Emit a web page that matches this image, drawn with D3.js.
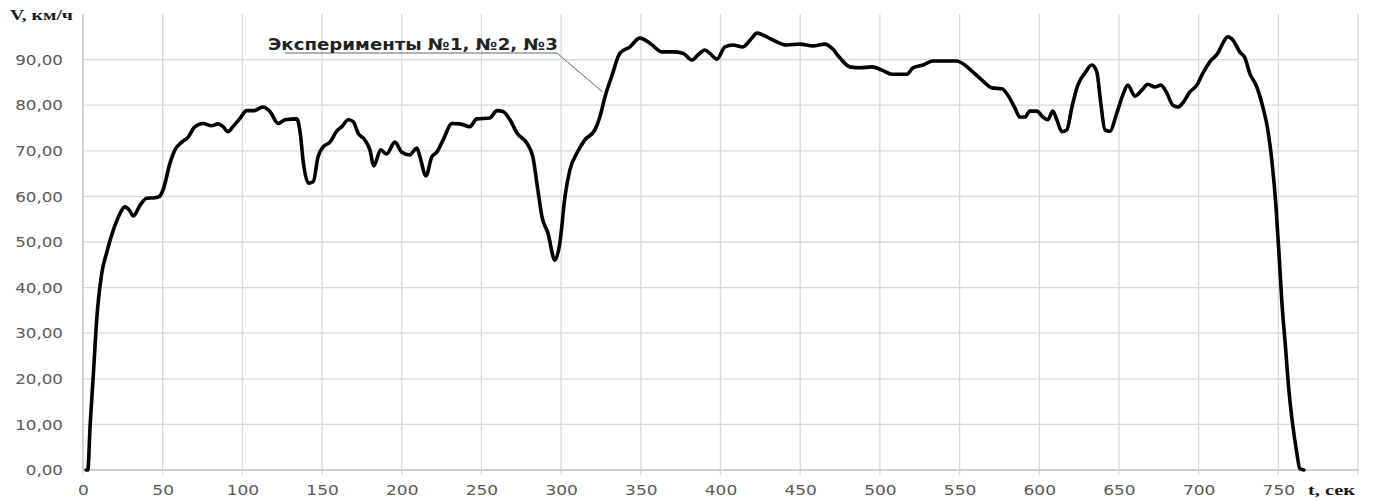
<!DOCTYPE html>
<html>
<head>
<meta charset="utf-8">
<script src="https://cdn.jsdelivr.net/npm/d3@7"></script>
<style>
  html, body { margin: 0; padding: 0; background: #ffffff; }
  svg { display: block; }
</style>
</head>
<body>
<svg id="chart" width="1373" height="501"></svg>
<script>
// Speed profile over the drive cycle (time in seconds, speed in km/h)
const timeSec = [
  2, 3, 4.5, 6.5, 8.6, 11.7, 14.8, 19, 22.2, 26.3, 29, 31.6, 35.8, 40, 45, 48,
  50.2, 54.6, 57.7, 62, 66, 70, 75.4, 80.6, 84.8, 87.9, 90.9, 94.1, 98.5, 102.7,
  106.9, 113, 117.3, 122.5, 126.7, 134.2, 136.3, 138.3, 141.4, 144.4, 147.5,
  150.5, 155, 159, 162.4, 166.4, 169.5, 172.6, 176.8, 180, 182.5, 186.8, 190.5,
  195.7, 200, 205, 209.5, 211.4, 215.2, 218.9, 222, 226, 231.5, 236.5, 242.8,
  247, 255.3, 259.7, 263.5, 267.9, 272.3, 278.5, 282.3, 285.4, 288, 291.7,
  296.1, 299.2, 302.4, 305.5, 309.9, 314.9, 321.2, 324.3, 327.5, 331.9, 336.9,
  343.2, 349.4, 355.7, 363.2, 370.1, 376.4, 382, 385.8, 390.2, 393.9, 397.7,
  402.8, 407.8, 414, 419.6, 422.8, 426.6, 432.9, 441.6, 449.8, 458, 465.5,
  469.9, 474.9, 481.2, 487.5, 495, 501.3, 507.5, 517, 520.7, 527, 533.3, 542,
  548.3, 553.3, 558.3, 564, 570.3, 576.5, 580.3, 584.7, 587.8, 591, 594.1,
  598.5, 602.3, 605.4, 608.5, 611, 614.2, 617.3, 620.5, 624.2, 628.6, 633,
  636.1, 638.6, 641.2, 644.3, 648.7, 652.4, 655.6, 660, 664.4, 668.1, 672.5,
  676.3, 680, 683.8, 687, 690.1, 694.5, 698.9, 702.6, 707, 712, 715.2, 718.3,
  721.5, 725.8, 729, 732.1, 736.5, 740.3, 743.4, 745.9, 748.5, 750.5, 752.2,
  754.5, 756.5, 759, 761.5, 763.5, 766
];
const speedKmh = [
  0, 0, 10, 21, 33, 43, 47.6, 52.6, 55.5, 57.7, 57, 55.7, 58.1, 59.6, 59.7, 60,
  61.4, 67.3, 70.2, 71.9, 73, 75.2, 76, 75.5, 75.9, 75.3, 74.2, 75.3, 77.1, 78.8,
  78.8, 79.6, 78.6, 76, 76.8, 77, 73.9, 67.3, 62.9, 63.2, 68.7,
  70.8, 71.9, 74.2, 75.3, 76.8, 76.4, 73.9, 72.4, 70.2, 66.7, 70.2, 69.3,
  71.9, 69.7, 69.1, 70.6, 68.7, 64.5, 68.7, 69.7, 72.4, 76, 75.9, 75.3,
  77, 77.2, 78.8, 78.6, 76.8, 73.9, 71.7, 68.6, 61.4, 55.5, 52,
  46, 49.8, 59.9, 65.8, 69.5, 72.4, 74.6, 77.4, 81.8, 86.5, 91.4,
  92.8, 94.7, 93.6, 91.7, 91.7, 91.4, 89.9, 91, 92.1, 91.2, 90.1,
  92.8, 93.2, 92.8, 94.7, 95.8, 95.4, 94.3, 93.2, 93.4, 93, 93.4,
  92.5, 90.4, 88.4, 88.2, 88.4, 87.7, 86.8, 86.8, 88.2, 88.8, 89.7, 89.7,
  89.7, 88.8, 87.3, 85.5, 83.8, 83.6, 82.2, 79.4, 77.4, 77.4, 78.7,
  78.7, 77.4, 76.8, 78.7, 76.8, 74.2, 74.6, 79.6, 84.4, 87, 88.8,
  87.3, 80.5, 74.6, 74.3, 78.3, 82.2, 84.4, 82, 83.3, 84.6, 84,
  84.4, 82.7, 80, 79.6, 80.5, 82.9, 84.4, 87, 89.5, 91.4, 93.6, 95,
  94.3, 91.7, 90.4, 87, 84, 79.6, 74.6, 68, 58, 47, 37,
  27, 18, 10, 4, 0.3, 0
];

// Axis ticks and labels
const xTicks = d3.range(0, 801, 50);
const xTickLabels = d3.range(0, 751, 50);
const yTicks = d3.range(0, 91, 10);
const yAxisTitle = "V, км/ч";
const xAxisTitle = "t, сек";
const seriesLabel = "Эксперименты №1, №2, №3";

const svg = d3.select("#chart");
const margin = { left: 83, right: 15, top: 14, bottom: 31 };
const W = 1373, H = 501;
const plotW = W - margin.left - margin.right;
const plotH = H - margin.top - margin.bottom;

const x = d3.scaleLinear().domain([0, 800]).range([margin.left, margin.left + plotW]);
const y = d3.scaleLinear().domain([0, 100]).range([margin.top + plotH, margin.top]);

const gridColor = "#d9d9d9";
const labelColor = "#595959";

// Horizontal grid
svg.append("g")
  .selectAll("line")
  .data(yTicks)
  .join("line")
  .attr("x1", x(0)).attr("x2", x(800))
  .attr("y1", d => y(d)).attr("y2", d => y(d))
  .attr("stroke", gridColor).attr("stroke-width", 1.3);

// Vertical grid
svg.append("g")
  .selectAll("line")
  .data(xTicks)
  .join("line")
  .attr("x1", d => x(d)).attr("x2", d => x(d))
  .attr("y1", y(100)).attr("y2", y(0) + 5)
  .attr("stroke", gridColor).attr("stroke-width", 1.3);

// Axes lines
svg.append("line")
  .attr("x1", x(0)).attr("x2", x(800))
  .attr("y1", y(0)).attr("y2", y(0))
  .attr("stroke", "#c8c8c8").attr("stroke-width", 1.3);
svg.append("line")
  .attr("x1", x(0)).attr("x2", x(0))
  .attr("y1", y(100)).attr("y2", y(0))
  .attr("stroke", "#c8c8c8").attr("stroke-width", 1.3);

// Y tick labels
const fmt = v => v.toFixed(2).replace(".", ",");
const yAxis = d3.axisLeft(y).tickValues(yTicks).tickFormat(fmt).tickSize(0).tickPadding(0);
const gy = svg.append("g").attr("transform", `translate(${x(0) - 20},0)`).call(yAxis);
gy.select(".domain").remove();
gy.selectAll("text")
  .attr("x", 0).attr("dy", "0.35em")
  .attr("transform", "scale(1.24,1)")
  .attr("fill", labelColor)
  .style("font-family", "'DejaVu Sans', Verdana, sans-serif")
  .style("font-size", "13.5px");

// X tick labels
const xAxis = d3.axisBottom(x).tickValues(xTickLabels).tickFormat(d3.format("d")).tickSize(0).tickPadding(0);
const gx = svg.append("g").attr("transform", `translate(0,${y(0) + 25})`).call(xAxis);
gx.select(".domain").remove();
gx.selectAll("text")
  .attr("y", 0).attr("dy", 0)
  .attr("transform", "scale(1.26,1)")
  .attr("fill", labelColor)
  .style("font-family", "'DejaVu Sans', Verdana, sans-serif")
  .style("font-size", "13.5px");

// Axis titles
svg.append("text")
  .attr("x", 10).attr("y", 20)
  .attr("textLength", 63).attr("lengthAdjust", "spacingAndGlyphs")
  .attr("fill", "#1a1a1a")
  .style("font-family", "'Liberation Serif', 'Times New Roman', serif")
  .style("font-weight", "bold").style("font-size", "15px")
  .text(yAxisTitle);
svg.append("text")
  .attr("x", 1308).attr("y", 495)
  .attr("textLength", 47).attr("lengthAdjust", "spacingAndGlyphs")
  .attr("fill", "#1a1a1a")
  .style("font-family", "'Liberation Serif', 'Times New Roman', serif")
  .style("font-weight", "bold").style("font-size", "15px")
  .text(xAxisTitle);

// Speed curve
const pts = timeSec.map((t, i) => [t, speedKmh[i]]);
const line = d3.line()
  .x(d => x(d[0]))
  .y(d => y(d[1]))
  .curve(d3.curveMonotoneX);
svg.append("path")
  .datum(pts)
  .attr("d", line)
  .attr("fill", "none")
  .attr("stroke", "#000")
  .attr("stroke-width", 3.6)
  .attr("stroke-linejoin", "round")
  .attr("stroke-linecap", "round");

// Series callout with leader line
const calloutT = 326, calloutV = 82.9;
const underlineY = 53;
svg.append("line")
  .attr("x1", 285).attr("x2", 557)
  .attr("y1", underlineY).attr("y2", underlineY)
  .attr("stroke", "#666").attr("stroke-width", 1);
svg.append("line")
  .attr("x1", 557).attr("y1", underlineY)
  .attr("x2", x(calloutT)).attr("y2", y(calloutV))
  .attr("stroke", "#666").attr("stroke-width", 1);
svg.append("text")
  .attr("x", 268).attr("y", 50)
  .attr("textLength", 290).attr("lengthAdjust", "spacingAndGlyphs")
  .attr("fill", "#222")
  .style("font-family", "'DejaVu Sans', Verdana, sans-serif")
  .style("font-weight", "bold").style("font-size", "16px")
  .text(seriesLabel);
</script>
</body>
</html>
